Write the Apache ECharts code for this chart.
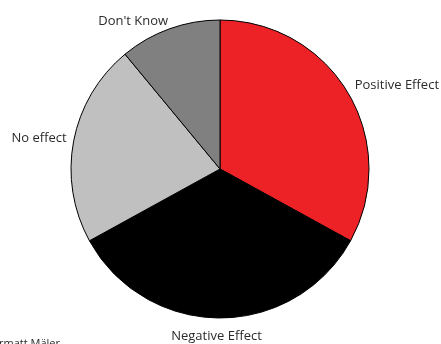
<!DOCTYPE html>
<html>
<head>
<meta charset="utf-8">
<script src="https://cdn.jsdelivr.net/npm/echarts@6/dist/echarts.min.js"></script>
<style>
  html, body { margin: 0; padding: 0; background: #fff; }
  #chart { width: 441px; height: 344px; }
</style>
</head>
<body>
<div id="chart"></div>
<script>
// answers, clockwise from 12 o'clock
const categories = ['Positive Effect', 'Negative Effect', 'No effect', "Don't Know"];
const shares = [33, 34, 22, 11];
const colors = ['#ec2227', '#000000', '#c0c0c0', '#808080'];
const sourceNote = 'rmatt Mäler';

// small label nudges [dx, dy] so the labels sit like in the original
const labelNudge = [[0, -6], [-4, 14], [0, -2], [3, -4]];

const chart = echarts.init(document.getElementById('chart'));

const option = {
  animation: false,
  textStyle: { fontFamily: 'Open Sans' },
  graphic: [
    {
      type: 'text',
      left: -1,
      top: 338,
      style: { text: sourceNote, fontSize: 11, fill: '#2b2b2b', fontFamily: 'Open Sans' }
    }
  ],
  series: [
    {
      type: 'pie',
      center: [220, 169],
      radius: 149,
      startAngle: 90,
      clockwise: true,
      avoidLabelOverlap: false,
      emphasis: { disabled: true },
      itemStyle: { borderColor: '#000', borderWidth: 1 },
      label: {
        show: true,
        position: 'outside',
        color: '#2b2b2b',
        fontSize: 13,
        fontFamily: 'Open Sans',
        distanceToLabelLine: 3,
        formatter: '{b}'
      },
      labelLine: { show: false, length: 4, length2: 0 },
      labelLayout: function (p) {
        const n = labelNudge[p.dataIndex];
        if (p.dataIndex === 1) {
          return { x: chart.getWidth() / 2 + n[0], align: 'center', dy: n[1] };
        }
        return { dx: n[0], dy: n[1] };
      },
      data: categories.map((name, i) => ({
        name: name,
        value: shares[i],
        itemStyle: { color: colors[i] }
      }))
    }
  ]
};

chart.setOption(option);
</script>
</body>
</html>
